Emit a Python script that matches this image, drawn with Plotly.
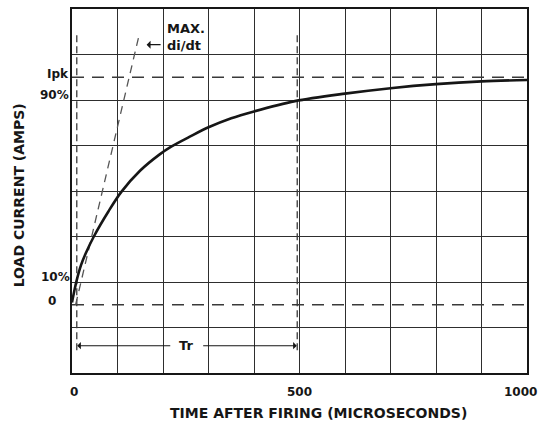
import plotly.graph_objects as go

# ---- data ----
time_us = [0, 5, 10, 20, 30, 48, 80, 108, 150, 192, 218, 260, 300, 350, 400, 490, 600, 700, 800, 900, 1000]
current_pct = [1, 6, 10.5, 17.5, 22.5, 30, 41, 49.5, 59, 66, 69.5, 74, 78, 82, 85, 89.5, 92.8, 95.2, 97, 98.2, 98.8]

didt_t = [8, 148]          # max di/dt tangent line (time, us)
didt_i = [0, 119]          # (% of Ipk)

x_span = [0, 1000]
ipk_level = [100, 100]
zero_level = [0, 0]

t10 = 10.5                 # time at 10 %
t90 = 495                  # time at 90 %
marker_span = [-20, 119]   # vertical extent of the dashed time markers
tr_level = -18             # Tr arrow level

grid_x = list(range(0, 1001, 100))
grid_y = list(range(-30, 131, 20))

x_label_vals = [0, 500, 1000]
x_label_text = ["0", "500", "1000"]
x_label_anchor = ["center", "center", "right"]
x_label_xshift = [2, 0, 12]

y_label_vals = [100, 90, 10, 0]
y_label_text = ["Ipk", "90%", "10%", "0"]
y_label_shift = [3, 5.5, 5.5, 4]
y_label_xshift = [-1.5, -1.5, -0.5, -20.5]
y_label_anchor = ["right", "right", "right", "center"]

FONT = "DejaVu Sans"
INK = "#161616"
GRID = "#2e2e2e"
DASH = "#3a3a3a"

fig = go.Figure()

# reference dashed lines
fig.add_trace(go.Scatter(x=x_span, y=ipk_level, mode="lines",
                         line=dict(color=DASH, width=1.4, dash="12px,8px"), hoverinfo="skip"))
fig.add_trace(go.Scatter(x=x_span, y=zero_level, mode="lines",
                         line=dict(color=DASH, width=1.4, dash="12px,8px"), hoverinfo="skip"))
fig.add_trace(go.Scatter(x=[t10, t10], y=marker_span, mode="lines",
                         line=dict(color=DASH, width=1.3, dash="7px,4px"), hoverinfo="skip"))
fig.add_trace(go.Scatter(x=[t90, t90], y=marker_span, mode="lines",
                         line=dict(color=DASH, width=1.3, dash="7px,4px"), hoverinfo="skip"))
fig.add_trace(go.Scatter(x=didt_t, y=didt_i, mode="lines",
                         line=dict(color="#555", width=1.3, dash="8px,6px"), hoverinfo="skip"))

# load current curve
fig.add_trace(go.Scatter(x=time_us, y=current_pct, mode="lines",
                         line=dict(color=INK, width=2.6, shape="spline", smoothing=0.9),
                         hoverinfo="skip"))

annotations = []
for v, txt, ys, xs, anc in zip(y_label_vals, y_label_text, y_label_shift, y_label_xshift, y_label_anchor):
    annotations.append(dict(x=0, xref="paper", y=v, yref="y", text=txt, showarrow=False,
                            xanchor=anc, yanchor="middle", xshift=xs, yshift=ys,
                            font=dict(family=FONT, size=12, color=INK, weight="bold")))
for v, txt, anc, xs in zip(x_label_vals, x_label_text, x_label_anchor, x_label_xshift):
    annotations.append(dict(x=v, xref="x", y=0, yref="paper", text=txt, showarrow=False,
                            xanchor=anc, yanchor="middle", xshift=xs, yshift=-19,
                            font=dict(family=FONT, size=12, color=INK, weight="bold")))

# axis titles
annotations.append(dict(x=0.541, xref="paper", y=-0.109, yref="paper",
                        text="TIME AFTER FIRING (MICROSECONDS)", showarrow=False,
                        xanchor="center", yanchor="middle",
                        font=dict(family=FONT, size=14, color=INK, weight="bold")))
annotations.append(dict(x=-0.1165, xref="paper", y=0.488, yref="paper",
                        text="LOAD CURRENT (AMPS)", showarrow=False, textangle=-90,
                        xanchor="center", yanchor="middle",
                        font=dict(family=FONT, size=14, color=INK, weight="bold")))

# MAX. di/dt label and arrow
annotations.append(dict(x=203.5, y=117.8, xref="x", yref="y", text="MAX.<br>di/dt",
                        showarrow=False, xanchor="left", yanchor="middle", align="left",
                        font=dict(family=FONT, size=13, color=INK, weight="bold")))
annotations.append(dict(x=164, y=114.3, xref="x", yref="y", ax=198, ay=114.3,
                        axref="x", ayref="y", text="", showarrow=True,
                        arrowhead=1, arrowsize=1.1, arrowwidth=1.2, arrowcolor=INK))

# Tr arrows
annotations.append(dict(x=t10 + 1, y=tr_level, xref="x", yref="y", ax=250, ay=tr_level,
                        axref="x", ayref="y", text="Tr", showarrow=True, startstandoff=7,
                        arrowhead=1, arrowsize=1.1, arrowwidth=1.1, arrowcolor=INK,
                        font=dict(family=FONT, size=13, color=INK, weight="bold")))
annotations.append(dict(x=t90 - 1, y=tr_level, xref="x", yref="y", ax=285, ay=tr_level,
                        axref="x", ayref="y", text="", showarrow=True,
                        arrowhead=1, arrowsize=1.1, arrowwidth=1.1, arrowcolor=INK))

fig.update_layout(
    width=540, height=421,
    margin=dict(l=72, r=13, t=7, b=48),
    paper_bgcolor="white", plot_bgcolor="white",
    showlegend=False,
    annotations=annotations,
    xaxis=dict(range=x_span, tickmode="array", tickvals=grid_x, showticklabels=False,
               showgrid=True, gridcolor=GRID, gridwidth=1.4, zeroline=False,
               showline=True, linecolor=INK, linewidth=2.2, mirror=True, ticks=""),
    yaxis=dict(range=[-30, 130], tickmode="array", tickvals=grid_y, showticklabels=False,
               showgrid=True, gridcolor=GRID, gridwidth=1.4, zeroline=False,
               showline=True, linecolor=INK, linewidth=2.2, mirror=True, ticks=""),
)

# remove the default page margin so the figure fills the window exactly
fig.write_html("out.html", config={"displayModeBar": False},
               post_script="document.body.style.margin='0px';document.body.style.overflow='hidden';")
